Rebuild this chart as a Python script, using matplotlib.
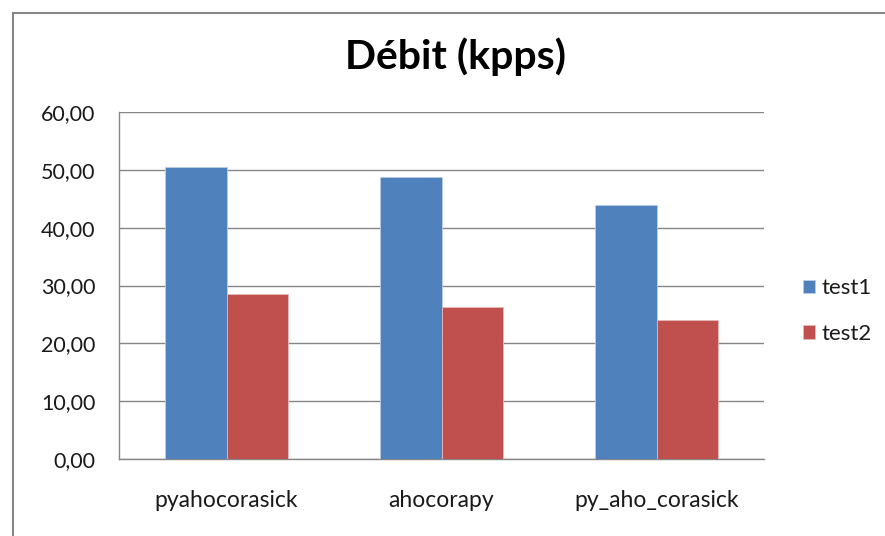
import matplotlib
matplotlib.use("Agg")
import matplotlib.pyplot as plt
import numpy as np
from matplotlib.patches import Rectangle

categories = ["pyahocorasick", "ahocorapy", "py_aho_corasick"]
test1 = [50.5, 48.8, 44.0]
test2 = [28.5, 26.3, 24.0]
series_names = ["test1", "test2"]
yticks = [0, 10, 20, 30, 40, 50, 60]
ytick_labels = ["0,00", "10,00", "20,00", "30,00", "40,00", "50,00", "60,00"]
title = "Débit (kpps)"

plt.rcParams['font.family'] = ['Lato', 'DejaVu Sans']

W, H = 885, 536
fig = plt.figure(figsize=(W / 100, H / 100), dpi=100)

# chart area border (cut off at right/bottom)
fig.patches.append(Rectangle((13 / W, -0.1), 2.0, 1 - 13 / H + 0.1, transform=fig.transFigure,
                             fill=False, edgecolor='#868686', linewidth=1.5))

left, right, top, bottom = 119, 764, 112, 459
ax = fig.add_axes([left / W, 1 - bottom / H, (right - left) / W, (bottom - top) / H])

x = np.arange(len(categories))
bw = 1 / 3.5
ax.bar(x - bw / 2, test1, bw, color='#4F81BD', edgecolor='#B9CDE5', linewidth=0.6, label=series_names[0], zorder=3)
ax.bar(x + bw / 2, test2, bw, color='#C0504D', edgecolor='#E6B9B8', linewidth=0.6, label=series_names[1], zorder=3)

ax.set_xlim(-0.5, len(categories) - 0.5)
ax.set_ylim(0, 60)
ax.set_yticks(yticks)
ax.set_yticklabels(ytick_labels, fontsize=15.5, color='#1a1a1a')
ax.set_xticks(x)
ax.set_xticklabels(categories, fontsize=16.5, color='#1a1a1a')
ax.tick_params(axis='both', length=0)
ax.tick_params(axis='y', pad=17)
ax.tick_params(axis='x', pad=22)
ax.grid(axis='y', color='#868686', linewidth=1.0, zorder=0)
for s in ['top', 'right']:
    ax.spines[s].set_visible(False)
for s in ['left', 'bottom']:
    ax.spines[s].set_color('#868686')
    ax.spines[s].set_linewidth(1.0)

fig.text(455 / W, 1 - 57 / H, title, ha='center', va='center', fontsize=29.5, fontweight='bold', color='#000000')

leg = fig.legend(loc='center left', bbox_to_anchor=(803 / W, 1 - 311 / H), frameon=False,
                 borderpad=0, borderaxespad=0,
                 fontsize=16, handlelength=0.55, handleheight=0.55, handletextpad=0.3,
                 labelspacing=1.15)
for t in leg.get_texts():
    t.set_color('#1a1a1a')

fig.savefig("out.png", dpi=100)
